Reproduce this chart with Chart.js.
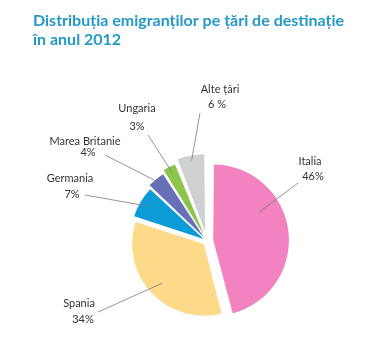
<!DOCTYPE html>
<html lang="ro">
<head>
    <meta charset="UTF-8">
    <title>Distribuția emigranților pe țări de destinație</title>
    <script src="https://cdn.jsdelivr.net/npm/chart.js"></script>
    <style>
        body {
            margin: 0;
            background: #ffffff;
        }
        .wrap {
            width: 390px;
            height: 337px;
            position: relative;
        }
    </style>
</head>
<body>
    <div class="wrap">
        <canvas id="emigChart"></canvas>
    </div>

    <script>
        // data
        const countries = ['Italia', 'Spania', 'Germania', 'Marea Britanie', 'Ungaria', 'Alte țări'];
        const shares = [46, 34, 7, 4, 3, 6];
        const shareLabels = ['46%', '34%', '7%', '4%', '3%', '6 %'];
        const sliceColors = ['#f282c0', '#fdd98a', '#0b9bd6', '#6870b8', '#8dc44b', '#cfd0d2'];

        // how far each slice is pulled out, in pixels
        const explodePx = [11, 5, 6, 9, 12, 16];

        // Chart.js moves an arc by offset/4 * (2 - sin(circumference)), so convert
        const total = shares.reduce((a, b) => a + b, 0);
        const arcFactor = v => {
            const circ = v / total * Math.PI * 2;
            return (2 - Math.sin(Math.min(Math.PI, circ))) / 4;
        };
        const offsets = shares.map((v, i) => explodePx[i] / arcFactor(v));

        // where each callout text sits and where its leader line goes
        const callouts = [
            { name: [310, 161], pct: [313, 176], from: [298, 183], at: 0.34, r: 0.7 },
            { name: [79, 303],  pct: [83, 319],  from: [98, 312],  at: 0.5,  r: 0.8 },
            { name: [70, 178],  pct: [72, 194],  from: [85, 195],  at: 0.5,  r: 0.88 },
            { name: [85, 141],  pct: [88, 152],  from: [105, 155], at: 0.5,  r: 0.95 },
            { name: [137, 108], pct: [137, 126], from: [148, 135], at: 0.5,  r: 0.93 },
            { name: [220, 89],  pct: [217, 104], from: [200, 113], at: 0.5,  r: 0.93 }
        ];

        const calloutPlugin = {
            id: 'callouts',
            afterDatasetsDraw(chart) {
                const ctx = chart.ctx;
                const arcs = chart.getDatasetMeta(0).data;
                ctx.save();
                ctx.font = '11px Lato, "Open Sans", sans-serif';
                ctx.fillStyle = '#333333';
                ctx.textAlign = 'center';
                ctx.textBaseline = 'alphabetic';
                arcs.forEach((arc, i) => {
                    const c = callouts[i];
                    const p = arc.getProps(['x', 'y', 'startAngle', 'endAngle', 'outerRadius'], true);
                    const mid = (p.startAngle + p.endAngle) / 2;
                    const off = explodePx[i];
                    const cx = p.x + Math.cos(mid) * off;
                    const cy = p.y + Math.sin(mid) * off;
                    const a = p.startAngle + (p.endAngle - p.startAngle) * c.at;
                    const ex = cx + Math.cos(a) * p.outerRadius * c.r;
                    const ey = cy + Math.sin(a) * p.outerRadius * c.r;

                    ctx.strokeStyle = '#7a7a7a';
                    ctx.lineWidth = 0.8;
                    ctx.beginPath();
                    ctx.moveTo(c.from[0], c.from[1]);
                    ctx.lineTo(ex, ey);
                    ctx.stroke();

                    ctx.fillText(countries[i], c.name[0], c.name[1] + 4);
                    ctx.fillText(shareLabels[i], c.pct[0], c.pct[1] + 4);
                });
                ctx.restore();
            }
        };

        const ctx = document.getElementById('emigChart').getContext('2d');

        const emigChart = new Chart(ctx, {
            type: 'pie',
            data: {
                labels: countries,
                datasets: [{
                    data: shares,
                    backgroundColor: sliceColors,
                    borderWidth: 0,
                    offset: offsets,
                    hoverOffset: 0
                }]
            },
            options: {
                responsive: true,
                maintainAspectRatio: false,
                animation: false,
                radius: 71,
                layout: {
                    padding: { left: 33, right: 9, top: 0, bottom: 0 }
                },
                plugins: {
                    legend: { display: false },
                    tooltip: { enabled: false },
                    title: {
                        display: true,
                        align: 'start',
                        text: ['Distribuția emigranților pe țări de destinație', 'în anul 2012'],
                        color: '#2599c6',
                        font: { family: 'Lato, "Open Sans", sans-serif', size: 16, weight: 'bold', lineHeight: 1.22 },
                        padding: { top: 11, bottom: 95 }
                    }
                }
            },
            plugins: [calloutPlugin]
        });
    </script>
</body>
</html>
